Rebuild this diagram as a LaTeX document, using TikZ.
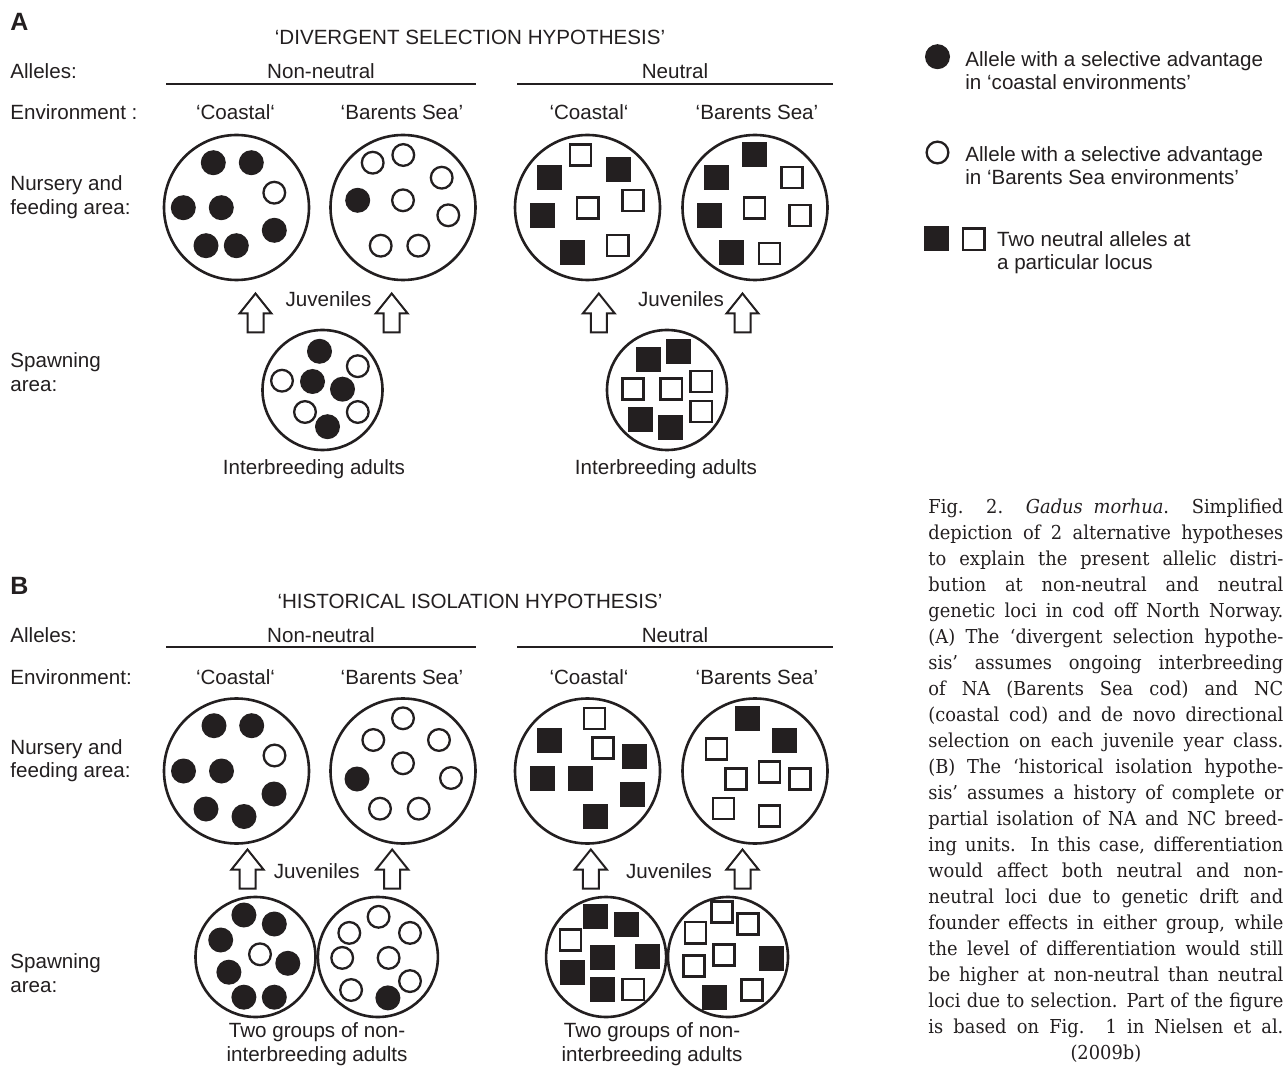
\documentclass[tikz,border=0pt]{standalone}
\usepackage{fontspec}
\setmainfont{Liberation Sans}
\newfontfamily\capfont[FakeStretch=0.93]{DejaVu Serif}
\definecolor{ink}{RGB}{35,31,32}
\begin{document}
\begin{tikzpicture}[x=0.5pt,y=-0.5pt,
  lab/.style={font=\fontsize{10.3}{11.7}\selectfont, text=ink, inner sep=0pt},
  panel/.style={font=\fontsize{12.5}{14}\selectfont\bfseries, text=ink, inner sep=0pt},
  bigc/.style={circle, draw=ink, line width=1.3pt, inner sep=0pt, minimum size=72.5pt},
  spawnc/.style={circle, draw=ink, line width=1.3pt, inner sep=0pt, minimum size=60pt},
  fdot/.style={circle, fill=ink, inner sep=0pt, minimum size=12.5pt},
  odot/.style={circle, draw=ink, line width=1.15pt, fill=white, inner sep=0pt, minimum size=10.85pt},
  fsq/.style={rectangle, fill=ink, inner sep=0pt, minimum size=12.5pt},
  osq/.style={rectangle, draw=ink, line width=1.15pt, fill=white, inner sep=0pt, minimum size=10.6pt},
  rulel/.style={draw=ink, line width=1pt},
  uparr/.pic={\draw[draw=ink, line width=1pt, fill=white, line join=miter] (0,0) -- (16,20) -- (8,20) -- (8,39) -- (-8,39) -- (-8,20) -- (-16,20) -- cycle;}
]
\fill[white] (0,0) rectangle (1285,1069);
\useasboundingbox (0,0) rectangle (1285,1069);

% ================= PANEL A =================
\node[panel, anchor=base west] (pA) at (10,31) {A};
\node[lab, anchor=base] (tA) at (470,45) {‘DIVERGENT SELECTION HYPOTHESIS’};
\node[lab, anchor=base west] (alA) at (10,79) {Alleles:};
\node[lab, anchor=base] (nnA) at (321,79) {Non-neutral};
\node[lab, anchor=base] (neA) at (675,79) {Neutral};
\draw[rulel] (166,84) -- (476,84);
\draw[rulel] (517,84) -- (833,84);
\node[lab, anchor=base west] (envA) at (10,120) {Environment :};
\node[lab, anchor=base] (eA1) at (235.5,120) {‘Coastal‘};
\node[lab, anchor=base] (eA2) at (402,120) {‘Barents Sea’};
\node[lab, anchor=base] (eA3) at (589,120) {‘Coastal‘};
\node[lab, anchor=base] (eA4) at (757,120) {‘Barents Sea’};
\node[lab, anchor=north west, align=left] (nuA) at (10,175.4) {Nursery and\\feeding area:};
\node[lab, anchor=north west, align=left] (spA) at (10,352.4) {Spawning\\area:};

\node[bigc] (nA1) at (236.5,207.5) {};
\node[bigc] (nA2) at (403,207.5) {};
\node[bigc] (nA3) at (587.5,207.5) {};
\node[bigc] (nA4) at (755,207.5) {};
\node[spawnc] (sA1) at (322.5,390) {};
\node[spawnc] (sA2) at (667,390) {};

\foreach \x/\y [count=\i] in {213.3/162.7, 251.3/162.7, 183.3/207.7, 221.3/207.7, 274.3/230.3, 206/245.7, 236.3/245.7}
  \node[fdot] (a1f\i) at (\x,\y) {};
\node[odot] (a1o1) at (274.3,192.7) {};
\foreach \x/\y [count=\i] in {372.7/162.7, 403.3/155, 441.7/177.7, 403/200.3, 448.3/215.3, 380.7/245.7, 418.3/245.7}
  \node[odot] (a2o\i) at (\x,\y) {};
\node[fdot] (a2f1) at (357.7,200.3) {};
\foreach \x/\y [count=\i] in {549.8/177.5, 618/170, 542.5/215.8, 572.5/253}
  \node[fsq] (a3f\i) at (\x,\y) {};
\foreach \x/\y [count=\i] in {580.3/155, 633/200.7, 587.8/208, 617.8/245.7}
  \node[osq] (a3o\i) at (\x,\y) {};
\foreach \x/\y [count=\i] in {754/155, 716.5/177.5, 709/215.8, 731.8/253}
  \node[fsq] (a4f\i) at (\x,\y) {};
\foreach \x/\y [count=\i] in {792/177.7, 754.7/208, 800/215.3, 769.7/253.3}
  \node[osq] (a4o\i) at (\x,\y) {};
\foreach \x/\y [count=\i] in {319.5/351.3, 312.5/381.5, 342.5/389.2, 327.5/426.7}
  \node[fdot] (s1f\i) at (\x,\y) {};
\foreach \x/\y [count=\i] in {282/380.7, 357.8/366.2, 305/412, 357.8/412}
  \node[odot] (s1o\i) at (\x,\y) {};
\foreach \x/\y [count=\i] in {648.2/359.2, 678.5/351.7, 640.8/419.8, 670.8/427.2}
  \node[fsq] (s2f\i) at (\x,\y) {};
\foreach \x/\y [count=\i] in {633/389, 671.2/389, 701.2/381.7, 701.2/411.7}
  \node[osq] (s2o\i) at (\x,\y) {};

\coordinate (arA1) at (255.5,293.5);
\coordinate (arA2) at (391.7,293.5);
\coordinate (arA3) at (598.8,293.5);
\coordinate (arA4) at (742.5,293.5);
\foreach \c in {arA1,arA2,arA3,arA4} \pic at (\c) {uparr};
\node[lab, anchor=base] (juA1) at (328.5,307) {Juveniles};
\node[lab, anchor=base] (juA2) at (681,307) {Juveniles};
\node[lab, anchor=base] (ibA1) at (314,474.4) {Interbreeding adults};
\node[lab, anchor=base] (ibA2) at (666,474.4) {Interbreeding adults};

% ================= PANEL B =================
\node[panel, anchor=base west] (pB) at (10,594) {B};
\node[lab, anchor=base] (tB) at (470,608) {‘HISTORICAL ISOLATION HYPOTHESIS’};
\node[lab, anchor=base west] (alB) at (10,642) {Alleles:};
\node[lab, anchor=base] (nnB) at (321,642) {Non-neutral};
\node[lab, anchor=base] (neB) at (675,642) {Neutral};
\draw[rulel] (166,647) -- (476,647);
\draw[rulel] (517,647) -- (833,647);
\node[lab, anchor=base west] (envB) at (10,684) {Environment:};
\node[lab, anchor=base] (eB1) at (235.5,684) {‘Coastal‘};
\node[lab, anchor=base] (eB2) at (402,684) {‘Barents Sea’};
\node[lab, anchor=base] (eB3) at (589,684) {‘Coastal‘};
\node[lab, anchor=base] (eB4) at (757,684) {‘Barents Sea’};
\node[lab, anchor=north west, align=left] (nuB) at (10,739) {Nursery and\\feeding area:};
\node[lab, anchor=north west, align=left] (spB) at (10,953.4) {Spawning\\area:};

\node[bigc] (nB1) at (236.5,771) {};
\node[bigc] (nB2) at (403,771) {};
\node[bigc] (nB3) at (587.5,771) {};
\node[bigc] (nB4) at (755,771) {};
\node[spawnc] (sB1) at (255.5,957) {};
\node[spawnc] (sB2) at (377.9,957) {};
\node[spawnc] (sB3) at (606.1,957) {};
\node[spawnc] (sB4) at (728,957) {};

\foreach \x/\y [count=\i] in {214/725.7, 251.7/725.7, 183.5/771, 221.5/771, 274/794, 206/809, 244/816.5}
  \node[fdot] (b1f\i) at (\x,\y) {};
\node[odot] (b1o1) at (274.5,755.5) {};
\foreach \x/\y [count=\i] in {403/718.3, 373.3/740, 439/740, 403/763.3, 451/778, 380/808.7, 418.7/808.7}
  \node[odot] (b2o\i) at (\x,\y) {};
\node[fdot] (b2f1) at (357,779) {};
\foreach \x/\y [count=\i] in {549/740.5, 634/756.5, 542.5/778, 580/778, 632.5/794, 595/816.5}
  \node[fsq] (b3f\i) at (\x,\y) {};
\foreach \x/\y [count=\i] in {594.7/718.3, 603/748}
  \node[osq] (b3o\i) at (\x,\y) {};
\foreach \x/\y [count=\i] in {747.5/718.3, 784/740.5}
  \node[fsq] (b4f\i) at (\x,\y) {};
\foreach \x/\y [count=\i] in {716.3/749, 736/779, 769.5/772, 800/779, 723.3/808.3, 769.5/816}
  \node[osq] (b4o\i) at (\x,\y) {};

\foreach \x/\y [count=\i] in {243.9/915, 274.3/924, 220.7/940, 287.8/963.3, 228.9/972.2, 243.9/997.2, 274.3/997.2}
  \node[fdot] (t1f\i) at (\x,\y) {};
\node[odot] (t1o1) at (260,954.3) {};
\foreach \x/\y [count=\i] in {349.3/932.9, 378.6/916.8, 410/932.9, 342.2/957.9, 388.6/957.9, 410/981.1, 351.1/990}
  \node[odot] (t2o\i) at (\x,\y) {};
\node[fdot] (t2f1) at (387.9,997.9) {};
\foreach \x/\y [count=\i] in {570.7/940, 633.2/989.3}
  \node[osq] (t3o\i) at (\x,\y) {};
\foreach \x/\y [count=\i] in {595/916.8, 626.1/924, 602.2/957.2, 647.5/956.1, 572.5/972.2, 602.9/989.3}
  \node[fsq] (t3f\i) at (\x,\y) {};
\foreach \x/\y [count=\i] in {695.7/932.9, 722/912, 748/924, 694/966, 724/955, 752/990}
  \node[osq] (t4o\i) at (\x,\y) {};
\foreach \x/\y [count=\i] in {771/958, 714/997}
  \node[fsq] (t4f\i) at (\x,\y) {};

\coordinate (arB1) at (247.5,849.5);
\coordinate (arB2) at (392.2,849.5);
\coordinate (arB3) at (590.8,849.5);
\coordinate (arB4) at (742.5,849.5);
\foreach \c in {arB1,arB2,arB3,arB4} \pic at (\c) {uparr};
\node[lab, anchor=base] (juB1) at (316.7,878) {Juveniles};
\node[lab, anchor=base] (juB2) at (669,878) {Juveniles};
\node[lab, anchor=north, align=center] (tgB1) at (317,1022.6) {Two groups of non-\\interbreeding adults};
\node[lab, anchor=north, align=center] (tgB2) at (652,1022.6) {Two groups of non-\\interbreeding adults};

% ================= LEGEND =================
\node[fdot] (lg1) at (937.5,56.7) {};
\node[lab, anchor=north west, align=left] (lt1) at (965,50.7) {Allele with a selective advantage\\in ‘coastal environments’};
\node[odot] (lg2) at (937.5,152.5) {};
\node[lab, anchor=north west, align=left] (lt2) at (965,145.7) {Allele with a selective advantage\\in ‘Barents Sea environments’};
\node[fsq] (lg3) at (936.3,238.7) {};
\node[osq] (lg4) at (973.8,239.2) {};
\node[lab, anchor=north west, align=left] (lt3) at (996.7,230.7) {Two neutral alleles at\\a particular locus};

% ================= CAPTION =================
\node[anchor=north west, inner sep=0pt, align=left, text=ink, font=\capfont\fontsize{9.6}{13}\selectfont] (cap) at (928,498.1) {%
\makebox[177.5pt][s]{Fig. 2. \textit{Gadus morhua}. Simplified}\\
\makebox[177.5pt][s]{depiction of 2 alternative hypotheses}\\
\makebox[177.5pt][s]{to explain the present allelic distri-}\\
\makebox[177.5pt][s]{bution at non-neutral and neutral}\\
\makebox[177.5pt][s]{genetic loci in cod off North Norway.}\\
\makebox[177.5pt][s]{(A) The ‘divergent selection hypothe-}\\
\makebox[177.5pt][s]{sis’ assumes ongoing interbreeding}\\
\makebox[177.5pt][s]{of NA (Barents Sea cod) and NC}\\
\makebox[177.5pt][s]{(coastal cod) and de novo directional}\\
\makebox[177.5pt][s]{selection on each juvenile year class.}\\
\makebox[177.5pt][s]{(B) The ‘historical isolation hypothe-}\\
\makebox[177.5pt][s]{sis’ assumes a history of complete or}\\
\makebox[177.5pt][s]{partial isolation of NA and NC breed-}\\
\makebox[177.5pt][s]{ing units. In this case, differentiation}\\
\makebox[177.5pt][s]{would affect both neutral and non-}\\
\makebox[177.5pt][s]{neutral loci due to genetic drift and}\\
\makebox[177.5pt][s]{founder effects in either group, while}\\
\makebox[177.5pt][s]{the level of differentiation would still}\\
\makebox[177.5pt][s]{be higher at non-neutral than neutral}\\
\makebox[177.5pt][s]{loci due to selection. Part of the figure}\\
\makebox[177.5pt][s]{is based on Fig. 1 in Nielsen et al.}\\
\makebox[177.5pt][c]{(2009b)}};
\end{tikzpicture}
\end{document}
